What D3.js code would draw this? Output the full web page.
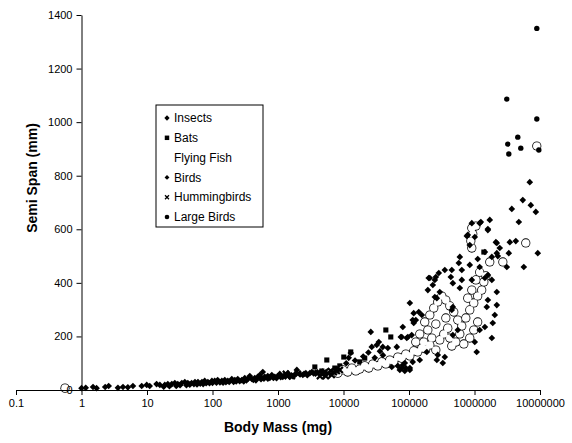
<!DOCTYPE html>
<html><head><meta charset="utf-8">
<script src="https://cdn.jsdelivr.net/npm/d3@7"></script>
<style>
body{margin:0;background:#fff}
svg{display:block;background:#fff}
text{font-family:"Liberation Sans",Arial,sans-serif;fill:#000}
</style>
</head><body>
<svg id="c" width="572" height="443"></svg>
<script>
// ---- data: [body mass (mg), semi span (mm)] ----
const seriesNames = ["Insects","Bats","Flying Fish","Birds","Hummingbirds","Large Birds"];
const xTicks = [0.1,1,10,100,1000,10000,100000,1000000,10000000];
const xTickLabels = ["0.1","1","10","100","1000","10000","100000","1000000","10000000"];
const yTicks = [0,200,400,600,800,1000,1200,1400];

const insects = [
[1.0,7],[1.16,8],[1.5,11],[1.7,7],[2.3,11],[2.6,15],[3.6,8],[4.3,11],[5.1,10],[6.1,15],[8.3,15],[9.9,19],[11,15],[14,22],
[15.7,19],[18.7,19],[20.8,22],[23.9,22],[26.6,26],[29.5,22],[34,26],[37.8,30],[42,26],[48,26],[54,30],[60,30],[69,30],
[76,34],[85,30],[98,34],[108,34],[120,37],[139,34],[154,37],[171,34],[197,41],[219,37],[243,41],[280,37],[311,45],[346,41],
[371,52],[398,41],[442,45],[492,49],[527,56],[566,45],[586,67],[629,49],[698,52],[750,45],[804,56],[894,49],[993,52],
[1065,60],[1183,49],[1270,56],[1412,63],[1514,49],[1683,52],[1938,75],[2152,60],[2393,56],[2661,63],[3062,63],[3283,67],
[18,12],[22,14],[28,15],[32,18],[40,18],[45,20],[52,22],[58,21],[65,24],[72,22],[80,25],[90,25],[100,26],[115,27],[130,28],
[145,27],[160,29],[180,30],[210,30],[230,32],[260,33],[300,32],[330,36],[420,38],[460,36],[550,40],[610,42],[700,42],[850,45],
[950,44],[1100,48],[1300,50],[1600,55],[1800,57],[2500,60],[2800,55],[3500,62],[4000,66]
];
const bats = [
[3650,86],[5560,112],[4670,71],[7370,82],[8780,90],[10100,123],[12900,142],[17700,105],[21100,119],[44300,224],[52700,198],[1390000,515]
];
const flyingFish = [
[0.56,7],
[8190,63],[9760,75],[11600,67],[13400,82],[15400,71],[17700,78],[21100,90],[24300,82],[28000,97],[33400,90],[38500,105],
[44300,97],[50900,112],[58600,105],[67500,123],[77600,119],[89400,134],[103000,127],[118000,146],[136000,142],[157000,157],[180000,153],
[208000,168],[223000,194],[194000,224],[174000,254],[208000,280],[239000,306],[275000,329],[317000,351],[365000,336],[420000,314],
[483000,291],[556000,261],[640000,239],[737000,269],[847000,299],[976000,325],[1120000,351],[1290000,373],[1390000,403],[1490000,426],
[1200000,440],[1050000,411],[910000,373],[790000,343],[365000,269],[391000,231],[420000,194],[450000,164],[295000,187],[340000,209],
[257000,246],[519000,179],[597000,209],[687000,172],[847000,194],[976000,224],[1120000,254],[257000,149],[127000,179],[146000,209],[168000,179],
[910000,530],[879000,556],[942000,582],[910000,605],[1050000,612],
[6070000,549],[2710000,478],[8940000,911],[1710000,478]
];
const birds = [
[103000,325],[118000,287],[127000,261],[118000,250],[26100,217],[80400,235],[75000,198],[92500,194],[110000,205],[34600,179],[32200,168],
[27000,161],[39800,161],[47500,157],[65100,161],[12900,138],[54600,86],[67500,90],[77600,82],[89400,82],[103000,82],[86300,101],
[910000,623],[1200000,623],[1600000,597],[790000,579],[1010000,571],[847000,541],[2190000,549],[1440000,515],[2190000,511],[1840000,497],
[597000,497],[576000,474],[1120000,489],[847000,467],[1200000,459],[352000,448],[450000,448],[640000,448],[285000,437],[435000,422],
[208000,418],[248000,411],[467000,399],[640000,411],[910000,411],[1440000,418],[1840000,411],[1600000,429],[231000,392],[194000,373],
[295000,366],[597000,381],[2190000,366],[248000,347],[467000,310],[450000,299],[1600000,336],[1540000,310],[2190000,317],[114000,261],
[157000,280],[2040000,280],[1900000,250],[1440000,235],[556000,224],[1200000,224],[467000,205],[77600,198],[96000,198],[1840000,194],
[1010000,179],[1080000,142],[187000,142],[275000,131],[266000,112],[352000,123],[328000,101],[80400,93],[114000,105],[146000,112],
[72400,75],[86300,71],[103000,75],[200000,418],[257000,422],[266000,343],[141000,291],
[12000,120],[15000,110],[20000,125],[24000,140],[30000,120],[11000,100],[40000,130],[36000,145],
[1250000,627],[1710000,635],[1600000,601],[763000,575],[2120000,552],[3460000,552],[4270000,556],[2430000,530],[9250000,511],
[2270000,500],[3340000,511],[3110000,459],[5660000,459],[3710000,676],[4750000,627],[5460000,709],[7240000,690],[8630000,665],[6980000,776]
];
const hummingbirds = [
[1320,60],[1625,52],[2010,60],[4060,63],[4670,60],[5190,67],[5760,63],[6400,71],[7110,67],[4370,52],[5370,52],[6610,56],[7900,71],[8780,75]
];
const largeBirds = [
[8940000,1350],[3110000,1086],[8940000,1012],[4580000,944],[3220000,918],[5090000,903],[3340000,881],[9600000,896]
];

// ---- chart ----
const svg = d3.select("#c");
const x = d3.scaleLog().domain([0.1, 1e7]).range([16, 540]);
const y = d3.scaleLinear().domain([0, 1400]).range([390, 15]);

const plot = svg.append("g");

function sym(type, size) { return d3.symbol().type(type).size(size)(); }
const diamondPath = sym(d3.symbolSquare, 22);

// Insects (diamonds)
plot.append("g").selectAll("path").data(insects).join("path")
  .attr("d", diamondPath)
  .attr("transform", d => `translate(${x(d[0])},${y(d[1])}) rotate(45)`)
  .attr("fill", "#000");

// Bats (squares)
plot.append("g").selectAll("path").data(bats).join("path")
  .attr("d", sym(d3.symbolSquare, 26))
  .attr("transform", d => `translate(${x(d[0])},${y(d[1])})`)
  .attr("fill", "#000");

// Flying fish (white markers; outline drawn as union)
const ff = plot.append("g");
ff.selectAll("circle.o").data(flyingFish).join("circle").attr("class","o")
  .attr("cx", d => x(d[0])).attr("cy", d => y(d[1])).attr("r", 4.6).attr("fill", "#000");
ff.selectAll("circle.i").data(flyingFish).join("circle").attr("class","i")
  .attr("cx", d => x(d[0])).attr("cy", d => y(d[1])).attr("r", 3.8).attr("fill", "#fff");

// Birds (diamonds)
plot.append("g").selectAll("path").data(birds).join("path")
  .attr("d", diamondPath)
  .attr("transform", d => `translate(${x(d[0])},${y(d[1])}) rotate(45)`)
  .attr("fill", "#000");

// Hummingbirds (x)
plot.append("g").selectAll("path").data(hummingbirds).join("path")
  .attr("d", sym(d3.symbolTimes, 26))
  .attr("transform", d => `translate(${x(d[0])},${y(d[1])})`)
  .attr("fill", "none").attr("stroke", "#000").attr("stroke-width", 2.2);

// Large birds (dots)
plot.append("g").selectAll("circle").data(largeBirds).join("circle")
  .attr("cx", d => x(d[0])).attr("cy", d => y(d[1])).attr("r", 2.7)
  .attr("fill", "#000");

// Axes
const xAxis = d3.axisBottom(x).tickValues(xTicks)
  .tickFormat((d, i) => xTickLabels[i]).tickSize(5).tickSizeOuter(0).tickPadding(4);
const gx = svg.append("g").attr("transform", `translate(0,${y(0)})`).call(xAxis);
gx.selectAll("text").style("font-size", "11px");

const yAxis = d3.axisLeft(y).tickValues(yTicks).tickFormat(d3.format("d"))
  .tickSize(5).tickSizeOuter(0).tickPadding(4);
const gy = svg.append("g").attr("transform", `translate(${x(1)},0)`).call(yAxis);
gy.selectAll("text").style("font-size", "11px");

svg.selectAll(".domain, .tick line").attr("stroke", "#000").attr("stroke-width", 1);

// Axis titles
svg.append("text").attr("x", 278).attr("y", 432).attr("text-anchor", "middle")
  .style("font-size", "14px").style("font-weight", "bold").text("Body Mass (mg)");
svg.append("text").attr("transform", "translate(37,178) rotate(-90)").attr("text-anchor", "middle")
  .style("font-size", "14px").style("font-weight", "bold").text("Semi Span (mm)");

// Legend
const lg = svg.append("g").attr("transform", "translate(156,105)");
lg.append("rect").attr("x", 0).attr("y", 0).attr("width", 107).attr("height", 122)
  .attr("fill", "#fff").attr("stroke", "#000").attr("stroke-width", 1);
const legendMarks = [
  g => g.append("path").attr("d", sym(d3.symbolSquare, 14)).attr("transform", "rotate(45)").attr("fill", "#000"),
  g => g.append("path").attr("d", sym(d3.symbolSquare, 20)).attr("fill", "#000"),
  g => g.append("circle").attr("r", 2.5).attr("fill", "#fff"),
  g => g.append("path").attr("d", sym(d3.symbolSquare, 12)).attr("transform", "rotate(45)").attr("fill", "#000"),
  g => g.append("path").attr("d", sym(d3.symbolTimes, 12)).attr("fill", "none").attr("stroke", "#000").attr("stroke-width", 1.3),
  g => g.append("circle").attr("r", 2.3).attr("fill", "#000")
];
seriesNames.forEach((name, i) => {
  const row = lg.append("g").attr("transform", `translate(0,${13 + i * 19.8})`);
  legendMarks[i](row.append("g").attr("transform", "translate(11,0)"));
  row.append("text").attr("x", 18).attr("y", 0).attr("dy", "0.35em")
    .style("font-size", "12px").text(name);
});
</script>
</body></html>
